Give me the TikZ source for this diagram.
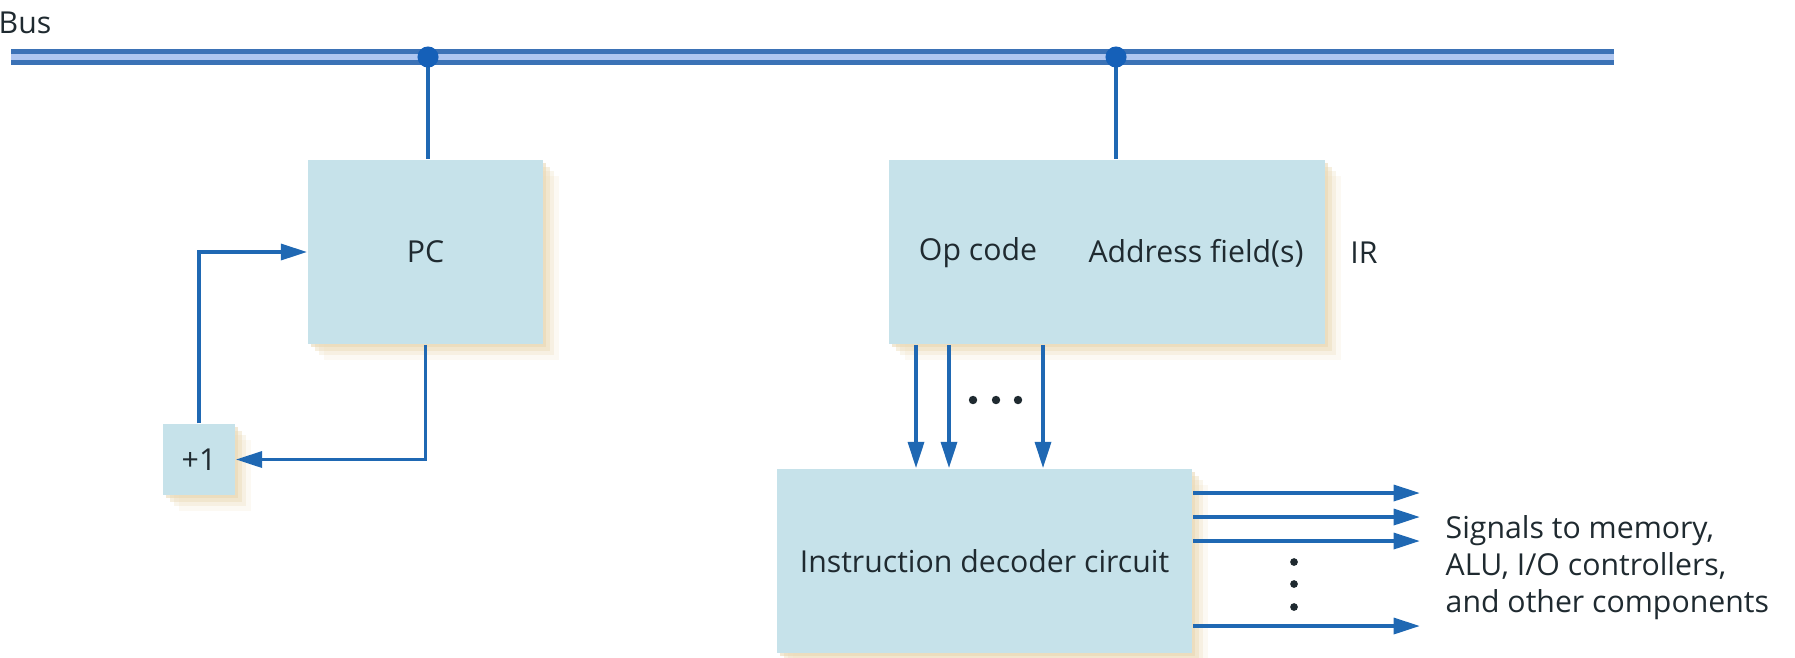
\documentclass[tikz,border=0pt]{standalone}
\usepackage{fontspec}
\setmainfont{Open Sans}
\usepackage{xcolor}
\usetikzlibrary{arrows.meta, positioning, calc, shadows}
\definecolor{boxfill}{HTML}{C6E2EA}
\definecolor{wireblue}{HTML}{1F68B3}
\definecolor{dotblue}{HTML}{1560B8}
\definecolor{busdark}{HTML}{3B72B6}
\definecolor{buslight}{HTML}{AEC6F0}
\definecolor{shade}{HTML}{E8D6B0}
\definecolor{ink}{HTML}{1F2A30}

\begin{document}
\begin{tikzpicture}[
  x=0.01cm, y=-0.01cm,
  font=\fontsize{8.6}{10.5}\selectfont, text=ink,
  blk/.style={fill=boxfill, inner sep=0pt,
    general shadow={shadow xshift=4.5pt, shadow yshift=-4.5pt, fill=shade, opacity=.15},
    general shadow={shadow xshift=3.2pt, shadow yshift=-3.2pt, fill=shade, opacity=.25},
    general shadow={shadow xshift=2pt, shadow yshift=-2pt, fill=shade, opacity=.4},
    general shadow={shadow xshift=0.9pt, shadow yshift=-0.9pt, fill=shade, opacity=.55}},
  wire/.style={draw=wireblue, line width=1.1pt},
  sig/.style={wire, -{Triangle[length=7.5pt, width=4.5pt]}},
  lbl/.style={inner sep=0pt}
]
\useasboundingbox (0,0) rectangle (1795,657);
% 总线
\coordinate (busL) at (11,57);
\coordinate (busR) at (1614,57);
\draw[busdark, line width=4.3pt] (busL) -- (busR);
\draw[buslight, line width=1.5pt] (busL) -- (busR);
\node[lbl, anchor=base west] (bus) at (-2,33) {Bus};
% 左侧 PC
\node[blk, minimum width=2.35cm, minimum height=1.84cm] (pc) at (425.5,252) {PC};
\node[blk, minimum width=0.72cm, minimum height=0.71cm] (inc) at (199,459.5) {+1};
\coordinate (tapPC) at (428,57);
\draw[wire] (tapPC) -- (tapPC |- pc.north);
\fill[dotblue] (tapPC) circle[radius=3pt];
\draw[sig] (pc.south) |- (inc.east);
\draw[sig] (inc.north) |- (pc.west);
% 右侧 IR
\node[blk, minimum width=4.36cm, minimum height=1.84cm] (ir) at (1107,252) {};
\node[lbl] (opc) at (978,253) {Op code};
\node[lbl] (addr) at (1196,253) {Address field(s)};
\node[lbl] (irname) at (1364,253) {IR};
\coordinate (tapIR) at (1116,57);
\draw[wire] (tapIR) -- (tapIR |- ir.north);
\fill[dotblue] (tapIR) circle[radius=3pt];
% 译码器
\node[blk, minimum width=4.15cm, minimum height=1.84cm] (dec) at (984.5,561) {Instruction decoder circuit};
\foreach \x in {916,949,1043}
  \draw[sig] (ir.south -| \x,0) -- (dec.north -| \x,0);
\foreach \x in {973,996,1018}
  \fill[ink] (\x,400) circle[radius=1.2pt];
\coordinate (out) at (1420,0);
\foreach \y in {493,517,541,626}
  \draw[sig] (dec.east |- 0,\y) -- (out |- 0,\y);
\foreach \y in {562,584,607}
  \fill[ink] (1294,\y) circle[radius=1.1pt];
\node[lbl, align=left, anchor=west] (sig) at (1445,568) {Signals to memory,\\ALU, I/O controllers,\\and other components};
\end{tikzpicture}
\end{document}
